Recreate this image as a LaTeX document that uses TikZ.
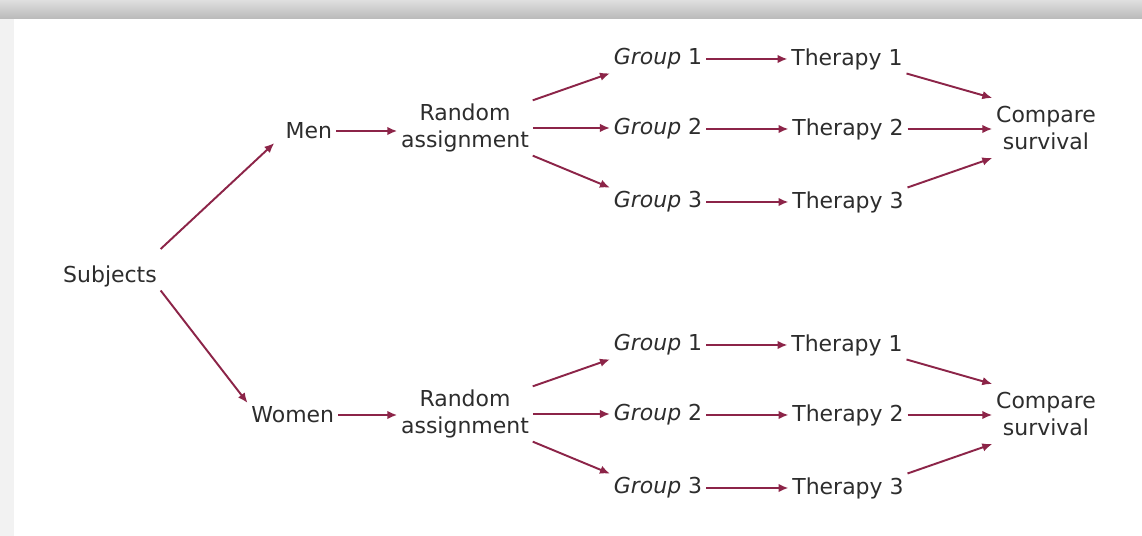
\documentclass[tikz,border=0pt]{standalone}
\usepackage{fontspec}
\setmainfont{DejaVu Sans}
\usetikzlibrary{arrows.meta}
\usepackage{xcolor}
\definecolor{arrowred}{RGB}{140,36,72}
\definecolor{inkgray}{RGB}{45,45,45}

\begin{document}
\begin{tikzpicture}[>={Latex[length=2mm,width=1.7mm]},font=\fontsize{12.5}{15}\selectfont,
  lbl/.style={text=inkgray,inner sep=2pt},
  link/.style={->,arrowred,line width=1.1pt}]
% frame with its shadow
\fill[gray!10] (0,0) rectangle (22.84,10.72);
\shade[top color=gray!25,bottom color=gray!55] (0,10.34) rectangle (22.84,10.72);
\fill[white] (0.28,0) rectangle (22.84,10.34);
\useasboundingbox (0,0) rectangle (22.84,10.72);

\node[lbl] (subj) at (2.2,5.2) {Subjects};
\node[lbl,anchor=east] (men) at (6.72,8.1) {Men};
\node[lbl,anchor=east] (women) at (6.76,2.42) {Women};

% the two branches
\foreach \s/\y in {a/0,b/-5.72}{
\begin{scope}[yshift=\y cm]
\node[lbl,align=center] (ra\s) at (9.3,8.16) {Random\\assignment};
\node[lbl] (ga\s) at (13.16,9.54) {{\itshape Group} 1};
\node[lbl] (gb\s) at (13.16,8.14) {{\itshape Group} 2};
\node[lbl] (gc\s) at (13.16,6.68) {{\itshape Group} 3};
\node[lbl] (ta\s) at (16.94,9.54) {Therapy 1};
\node[lbl] (tb\s) at (16.96,8.14) {Therapy 2};
\node[lbl] (tc\s) at (16.96,6.68) {Therapy 3};
\node[lbl,align=center] (cmp\s) at (20.92,8.16) {Compare\\survival};
\draw[link] (ra\s.north east) -- (ga\s.south west);
\draw[link] (ra\s.east) -- (ra\s.east -| gb\s.west);
\draw[link] (ra\s.south east) -- (gc\s.north west);
\draw[link] (ga\s) -- (ta\s);
\draw[link] (gb\s) -- (tb\s);
\draw[link] (gc\s) -- (tc\s);
\draw[link] (ta\s.south east) -- ([yshift=0.6cm]cmp\s.west);
\draw[link] (tb\s.east) -- (tb\s.east -| cmp\s.west);
\draw[link] (tc\s.north east) -- ([yshift=-0.6cm]cmp\s.west);
\end{scope}
}

\draw[link] ([yshift=0.25cm]subj.north east) -- ([xshift=-0.15cm]men.south west);
\draw[link] (subj.south east) -- (women.north west);
\draw[link] (men.east) -- (men.east -| raa.west);
\draw[link] (women.east) -- (women.east -| rab.west);
\end{tikzpicture}
\end{document}
